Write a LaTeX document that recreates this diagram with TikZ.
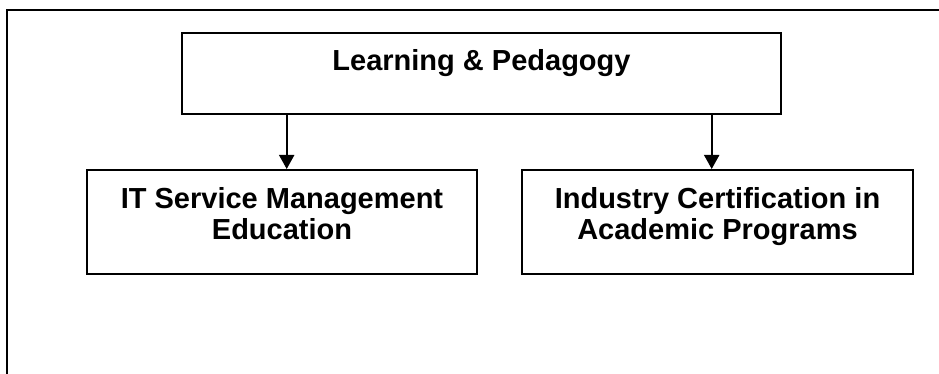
\documentclass[tikz,border=0pt]{standalone}
\usepackage{fontspec}
\setmainfont{Liberation Sans}
\usetikzlibrary{arrows.meta}

% invisible rules that fix the height of a first line and the depth of a last line
\newcommand\hiStrut{\rule{0pt}{25pt}}
\newcommand\loStrut{\rule[-21.5pt]{0pt}{21.5pt}}

\begin{document}
\begin{tikzpicture}[x=1pt,y=1pt,
  box/.style={draw=black, line width=2pt, rectangle, inner sep=0pt,
    align=center, font=\fontsize{29}{30.5}\selectfont\bfseries},
  topbox/.style={box, minimum width=599pt, minimum height=81pt,
    text height=21pt, text depth=26pt},
  subbox/.style={box, minimum width=390pt, minimum height=104pt},
  arr/.style={line width=2pt, -{Triangle[width=15pt,length=14pt]}},
  frameline/.style={line width=2pt, line cap=rect}]

  % page area
  \useasboundingbox (0,0) rectangle (939,-374);

  % open frame: left and top edges only
  \coordinate (fbl) at (7.3,-376);
  \coordinate (ftl) at (7.3,-10);
  \coordinate (ftr) at (941,-10);
  \draw[frameline] (fbl) -- (ftl) -- (ftr);

  % boxes
  \node[topbox] (top) at (481.5,-73.5) {Learning \& Pedagogy};
  \node[subbox] (left) at (282,-222)
    {\hiStrut IT Service Management\\Education\loStrut};
  \node[subbox, minimum width=391pt] (right) at (717.5,-222)
    {\hiStrut Industry Certification in\\Academic Programs\loStrut};

  % connectors
  \draw[arr] (top.south -| 286.7,0) -- (left.north -| 286.7,0);
  \draw[arr] (top.south -| 711.7,0) -- (right.north -| 711.7,0);
\end{tikzpicture}
\end{document}
